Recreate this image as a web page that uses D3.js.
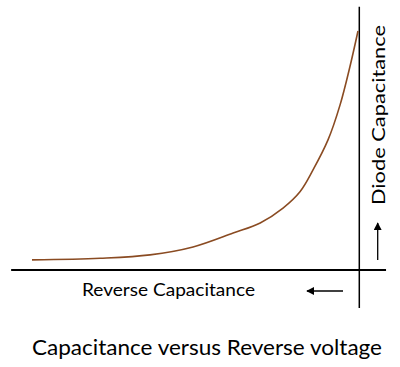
<!DOCTYPE html>
<html>
<head>
<meta charset="utf-8">
<script src="https://cdn.jsdelivr.net/npm/d3@7"></script>
<style>
  body { margin: 0; background: #fff; }
  text { font-family: Lato, "Open Sans", sans-serif; fill: #000; }
</style>
</head>
<body>
<div id="chart"></div>
<script>
// reverse voltage (relative, increasing toward the left in the drawing) and capacitance
const voltage = [0, 20.9, 36.2, 49.4, 61.7, 70, 77, 82.2, 86.2, 90.8, 94.5, 97.5, 100];
const capacitance = [4.2, 4.9, 6.3, 9.6, 15.4, 19.6, 25.8, 32.6, 41.7, 54.2, 68.8, 84.6, 99.6];
const xLabel = "Reverse Capacitance";
const yLabel = "Diode Capacitance";
const title = "Capacitance versus Reverse voltage";

const width = 400, height = 367;

const svg = d3.select("#chart").append("svg")
    .attr("width", width)
    .attr("height", height);

const x = d3.scaleLinear().domain([0, 100]).range([32, 358]);
const y = d3.scaleLinear().domain([0, 100]).range([270, 30]);

const defs = svg.append("defs");
defs.append("marker")
    .attr("id", "head")
    .attr("viewBox", "0 0 10 10")
    .attr("refX", 9).attr("refY", 5)
    .attr("markerWidth", 8).attr("markerHeight", 8)
    .attr("markerUnits", "userSpaceOnUse")
    .attr("orient", "auto")
  .append("path")
    .attr("d", "M0,0 L10,5 L0,10 Z")
    .attr("fill", "#000");

// axes
svg.append("line")
    .attr("x1", x(-6.4)).attr("x2", x(108.6))
    .attr("y1", y(0)).attr("y2", y(0))
    .attr("stroke", "#000").attr("stroke-width", 2);

svg.append("line")
    .attr("x1", x(100.4)).attr("x2", x(100.4))
    .attr("y1", y(109.7)).attr("y2", y(-15.8))
    .attr("stroke", "#000").attr("stroke-width", 1.5);

// curve
const line = d3.line()
    .x((d, i) => x(voltage[i]))
    .y(d => y(d))
    .curve(d3.curveCatmullRom.alpha(0.5));

svg.append("path")
    .datum(capacitance)
    .attr("d", line)
    .attr("fill", "none")
    .attr("stroke", "#8a4b22")
    .attr("stroke-width", 1.6);

// arrows
svg.append("line")
    .attr("x1", 377.7).attr("x2", 377.7)
    .attr("y1", y(4.2)).attr("y2", y(19.6))
    .attr("stroke", "#000").attr("stroke-width", 1.3)
    .attr("marker-end", "url(#head)");

svg.append("line")
    .attr("x1", 343).attr("x2", 307)
    .attr("y1", 291).attr("y2", 291)
    .attr("stroke", "#000").attr("stroke-width", 1.3)
    .attr("marker-end", "url(#head)");

// labels
svg.append("text")
    .attr("x", 82).attr("y", 296)
    .attr("font-size", 17)
    .attr("textLength", 173)
    .attr("lengthAdjust", "spacingAndGlyphs")
    .text(xLabel);

svg.append("text")
    .attr("transform", "translate(385,205) rotate(-90)")
    .attr("font-size", 18)
    .attr("textLength", 180)
    .attr("lengthAdjust", "spacingAndGlyphs")
    .text(yLabel);

svg.append("text")
    .attr("x", 32).attr("y", 355)
    .attr("font-size", 21)
    .attr("textLength", 350)
    .attr("lengthAdjust", "spacingAndGlyphs")
    .text(title);
</script>
</body>
</html>
